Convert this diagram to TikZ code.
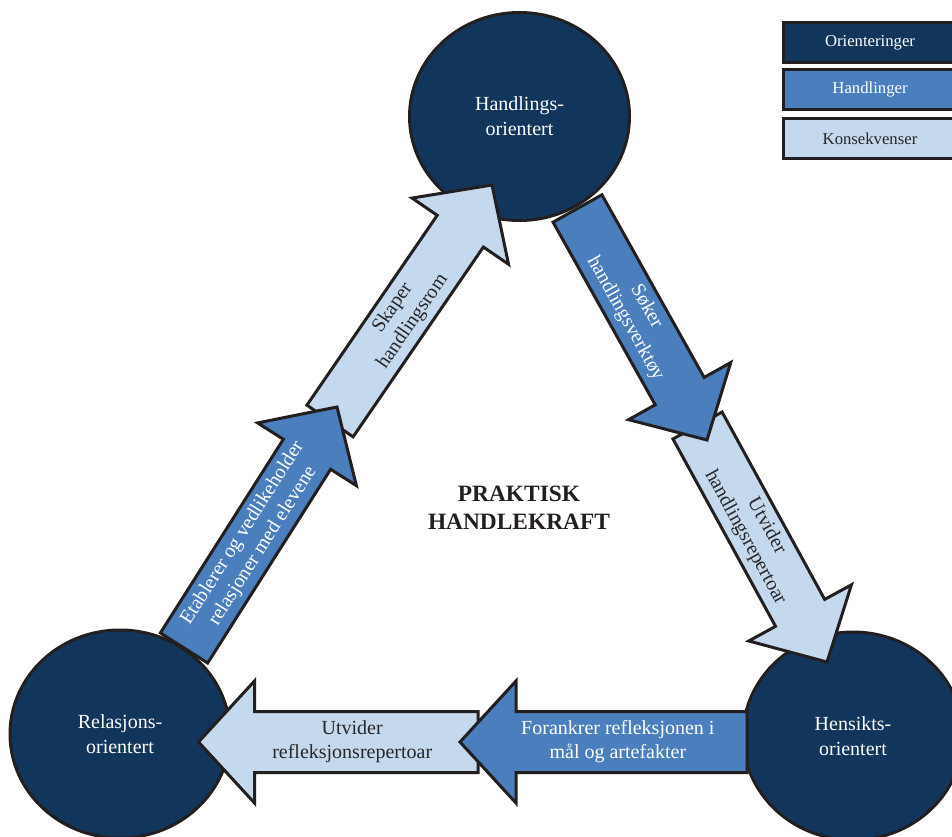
\documentclass[tikz,border=0pt]{standalone}
\usepackage{fontspec}
\setmainfont{Liberation Serif}
\usetikzlibrary{calc,shapes.geometric}

\definecolor{navy}{RGB}{18,53,92}
\definecolor{midblue}{RGB}{74,126,189}
\definecolor{lightblue}{RGB}{197,217,238}
\definecolor{outline}{RGB}{35,31,32}
\definecolor{darktext}{RGB}{40,38,40}

\tikzset{
  hub/.style={ellipse, draw=outline, line width=3pt, fill=navy,
    minimum width=220pt, minimum height=208pt, inner sep=0pt,
    text=white, align=center, font=\fontsize{20}{25}\selectfont},
  arrowbody/.style={draw=outline, line width=3pt, line join=miter},
  act/.style={arrowbody, fill=midblue},
  cons/.style={arrowbody, fill=lightblue},
  arrowlabel/.style={align=center, inner sep=0pt, font=\fontsize{20}{24}\selectfont},
  actlabel/.style={arrowlabel, text=white},
  conslabel/.style={arrowlabel, text=darktext},
  legendbox/.style={draw=outline, line width=3pt, minimum width=174pt,
    minimum height=40pt, inner sep=0pt, font=\fontsize{16.7}{20}\selectfont},
  title/.style={align=center, text=outline, font=\fontsize{23.4}{28}\selectfont\bfseries}
}

% Block arrow from a tail coordinate to a tip coordinate:
% #1 style, #2 tail, #3 tip, #4 half shaft width, #5 half head width
\newcommand\blockarrow[5]{%
  \path[#1] ($(#2)!#4!90:(#3)$)
    -- ($(#3)!56pt!(#2)!#4!-90:(#2)$)
    -- ($(#3)!56pt!(#2)!#5!-90:(#2)$)
    -- (#3)
    -- ($(#3)!56pt!(#2)!#5!90:(#2)$)
    -- ($(#3)!56pt!(#2)!#4!90:(#2)$)
    -- ($(#2)!#4!-90:(#3)$) -- cycle;}

\begin{document}
\begin{tikzpicture}[x=1pt,y=1pt]
\useasboundingbox (0,0) rectangle (952,836);
\fill[white] (0,0) rectangle (952,836);

% the three orientations
\node[hub] (hand) at (519.5,719.5) {Handlings-\\orientert};
\node[hub] (rel)  at (120,102)     {Relasjons-\\orientert};
\node[hub] (hens) at (853,100)     {Hensikts-\\orientert};

% arrow end points
\coordinate (etabTail) at (184,188);
\coordinate (etabTip)  at (337,429);
\coordinate (skapTail) at (330,415);
\coordinate (skapTip)  at (492,651);
\coordinate (sokTail)  at (577.5,627.5);
\coordinate (sokTip)   at (707,396);
\coordinate (utvTail)  at (697.5,410.5);
\coordinate (utvTip)   at (827,174);
\coordinate (foraTail) at (747,94);
\coordinate (foraTip)  at (460,94);
\coordinate (reflTail) at (478,94);
\coordinate (reflTip)  at (198.5,94);

% consequences (underneath)
\blockarrow{cons}{skapTail}{skapTip}{28pt}{58.5pt}
\blockarrow{cons}{utvTail}{utvTip}{28pt}{58.5pt}
\blockarrow{cons}{reflTail}{reflTip}{30.5pt}{61pt}

% actions (on top)
\blockarrow{act}{etabTail}{etabTip}{28pt}{58.5pt}
\blockarrow{act}{sokTail}{sokTip}{28pt}{58.5pt}
\blockarrow{act}{foraTail}{foraTip}{30.5pt}{61pt}

% arrow labels
\path (skapTail) -- (skapTip) node[pos=.45, sloped, conslabel] (skapLbl) {Skaper\\handlingsrom};
\path (utvTail) -- (utvTip) node[pos=.45, sloped, conslabel] (utvLbl) {Utvider\\handlingsrepertoar};
\path (reflTail) -- (reflTip) node[pos=.45, sloped, conslabel] (reflLbl) {Utvider\\refleksjonsrepertoar};
\path (etabTail) -- (etabTip) node[pos=.45, sloped, actlabel] (etabLbl) {Etablerer og vedlikeholder\\relasjoner med elevene};
\path (sokTail) -- (sokTip) node[pos=.45, sloped, actlabel] (sokLbl) {Søker\\handlingsverktøy};
\path (foraTail) -- (foraTip) node[pos=.45, sloped, actlabel] (foraLbl) {Forankrer refleksjonen i\\mål og artefakter};

% centre title
\node[title] (kraft) at (519,328) {PRAKTISK\\HANDLEKRAFT};

% legend
\node[legendbox, fill=navy, text=white] (legO) at (870,793.3) {Orienteringer};
\node[legendbox, fill=midblue, text=white] (legH) at (870,746) {Handlinger};
\node[legendbox, fill=lightblue, text=darktext] (legK) at (870,697.7) {Konsekvenser};
\end{tikzpicture}
\end{document}
